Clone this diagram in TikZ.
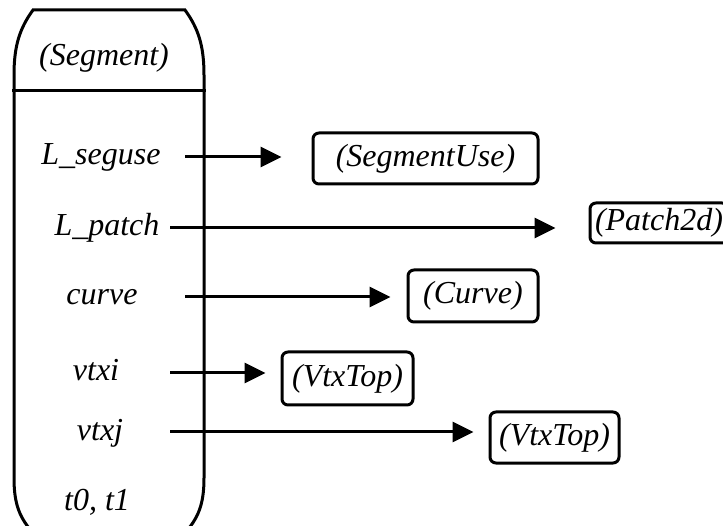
\documentclass[tikz,border=0pt]{standalone}
\usepackage{fontspec}
\setmainfont{Liberation Serif}
\usetikzlibrary{arrows.meta}
\begin{document}
\begin{tikzpicture}[x=1pt,y=-1pt,
  line width=3pt,
  lbl/.style={font=\fontsize{32}{38}\selectfont\itshape, inner sep=0pt, anchor=base},
  cls/.style={draw, rounded corners=6pt, inner sep=0pt,
              font=\fontsize{32}{38}\selectfont\itshape},
  arr/.style={-{Triangle[length=21pt,width=20pt]}}]
  \useasboundingbox (0,0) rectangle (723,526);

  % record outline with curved corners
  \draw (33,10) -- (185,10) .. controls (198,28) and (204,45) .. (204,75)
        -- (204,478) .. controls (204,505) and (198,518) .. (185,533)
        -- (33,533) .. controls (20,518) and (14,505) .. (14,478)
        -- (14,75) .. controls (14,45) and (20,28) .. (33,10) -- cycle;
  \coordinate (divl) at (12,91);
  \coordinate (divr) at (206,91);
  \draw (divl) -- (divr);

  % record title and fields (placed by baseline)
  \node[lbl] (title) at (104,66) {(Segment)};
  \node[lbl] (fseguse) at (101,165) {L\_seguse};
  \node[lbl] (fpatch) at (107,236) {L\_patch};
  \node[lbl] (fcurve) at (102,305) {curve};
  \node[lbl] (fvtxi) at (96,381) {vtxi};
  \node[lbl] (fvtxj) at (100,440) {vtxj};
  \node[lbl] (ft) at (97,510) {t0, t1};

  % referenced records
  \node[cls, minimum width=225pt, minimum height=51pt] (segUse) at (425.5,158.5) {(SegmentUse)};
  \node[cls, minimum width=138pt, minimum height=40pt] (patch) at (659,223) {(Patch2d)};
  \node[cls, minimum width=130pt, minimum height=52pt] (crv) at (473,296) {(Curve)};
  \node[cls, minimum width=131pt, minimum height=53pt] (vtop1) at (347.5,378.5) {(VtxTop)};
  \node[cls, minimum width=129pt, minimum height=51pt] (vtop2) at (554.5,437.5) {(VtxTop)};

  % pointer arrows
  \coordinate (s1) at (185,157);
  \coordinate (s2) at (170,228);
  \coordinate (s3) at (185,297);
  \coordinate (s4) at (170,373);
  \coordinate (s5) at (170,432);
  \draw[arr, shorten >=30pt] (s1) -- (s1 -| segUse.west);
  \draw[arr, shorten >=33pt] (s2) -- (s2 -| patch.west);
  \draw[arr, shorten >=16pt] (s3) -- (s3 -| crv.west);
  \draw[arr, shorten >=15pt] (s4) -- (s4 -| vtop1.west);
  \draw[arr, shorten >=15pt] (s5) -- (s5 -| vtop2.west);
\end{tikzpicture}
\end{document}
